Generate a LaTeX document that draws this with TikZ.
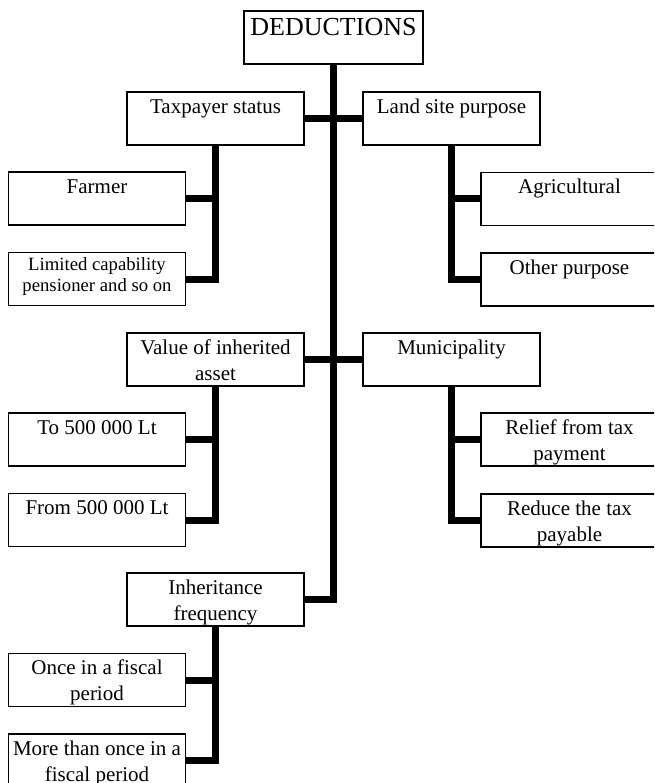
\documentclass[tikz,border=0pt]{standalone}
\usepackage{fontspec}
\setmainfont{Liberation Serif}
\newcommand\btxt[2][]{\parbox[c][51pt][t]{174pt}{\centering #1\vspace*{2pt}\strut #2\strut}}
\tikzset{
  box/.style={draw, line width=1.3pt, fill=white, inner sep=0pt,
    minimum width=177pt, minimum height=53pt,
    font=\fontsize{21}{26}\selectfont},
  conn/.style={line width=7pt, line join=miter},
}
\begin{document}
\begin{tikzpicture}[x=1pt,y=-1pt]
\useasboundingbox (0,0) rectangle (654,783);
\clip (0,0) rectangle (654,783);
% connectors
\coordinate (trunkend) at (333.5,599.5);
\node[box] (ded) at (333.5,37.5) [minimum width=179pt]
  {\parbox[c][51pt][t]{176pt}{\centering\fontsize{26}{30}\selectfont\vspace*{3pt}\strut DEDUCTIONS}};
\node[box] (tax) at (215.5,118.5) {\btxt{Taxpayer status}};
\node[box] (land) at (451.5,118.5) {\btxt{Land site purpose}};
\node[box] (farm) at (97,198.5) {\btxt{Farmer}};
\node[box] (lim) at (97,279) {\btxt[\fontsize{18.7}{21}\selectfont]{Limited capability\\pensioner and so on}};
\node[box] (agri) at (569.5,199) {\btxt{Agricultural}};
\node[box] (oth) at (569.5,279.5) {\btxt{Other purpose}};
\node[box] (val) at (215.5,359.5) {\btxt{Value of inherited\\asset}};
\node[box] (muni) at (451.5,359.5) {\btxt{Municipality}};
\node[box] (to) at (97,439.5) {\btxt{To 500 000 Lt}};
\node[box] (from) at (97,520) {\btxt{From 500 000 Lt}};
\node[box] (rel) at (569.5,439.5) {\btxt{Relief from tax\\payment}};
\node[box] (red) at (569.5,520.5) {\btxt{Reduce the tax\\payable}};
\node[box] (inh) at (215.5,599.5) {\btxt{Inheritance\\frequency}};
\node[box] (once) at (97,680) {\btxt{Once in a fiscal\\period}};
\node[box] (more) at (97,760.5) {\btxt{More than once in a\\fiscal period}};
% main trunk
\draw[conn] (ded.south) -- (ded.south |- inh.east) -- (inh.east);
\draw[conn] (tax.east) -- (land.west);
\draw[conn] (val.east) -- (muni.west);
% taxpayer branch
\draw[conn] (tax.south) -- (tax.south |- lim.east) -- (lim.east);
\draw[conn] (farm.east) -- (farm.east -| tax.south);
% land branch
\draw[conn] (land.south) -- (land.south |- oth.west) -- (oth.west);
\draw[conn] (agri.west) -- (agri.west -| land.south);
% value branch
\draw[conn] (val.south) -- (val.south |- from.east) -- (from.east);
\draw[conn] (to.east) -- (to.east -| val.south);
% municipality branch
\draw[conn] (muni.south) -- (muni.south |- red.west) -- (red.west);
\draw[conn] (rel.west) -- (rel.west -| muni.south);
% inheritance branch
\draw[conn] (inh.south) -- (inh.south |- more.east) -- (more.east);
\draw[conn] (once.east) -- (once.east -| inh.south);
\end{tikzpicture}
\end{document}
